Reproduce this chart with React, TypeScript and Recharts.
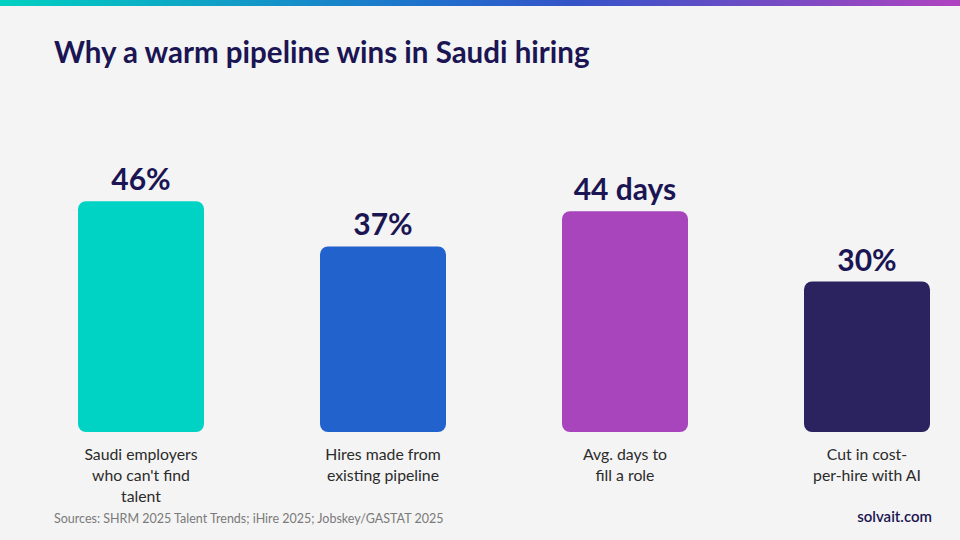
import React from 'react';
import { BarChart, Bar, XAxis, YAxis, Cell, LabelList } from 'recharts';

const categories = [
  "Saudi employers\nwho can't find\ntalent",
  'Hires made from\nexisting pipeline',
  'Avg. days to\nfill a role',
  'Cut in cost-\nper-hire with AI',
];
const values = [46, 37, 44, 30];
const valueLabels = ['46%', '37%', '44 days', '30%'];
const barColors = ['#00d3c3', '#2262cc', '#a845bd', '#2a235f'];

const data = categories.map((name, i) => ({
  name,
  value: values[i],
  display: valueLabels[i],
}));

const FONT = 'Lato, "Open Sans", sans-serif';
const NAVY = '#1b1553';

const CategoryTick = (props: any) => {
  const { x, y, payload } = props;
  const lines = String(payload.value).split('\n');
  return (
    <text x={x} y={y} textAnchor="middle" fontFamily={FONT} fontSize={15.8} fill="#2b2b2b">
      {lines.map((l: string, i: number) => (
        <tspan key={i} x={x} dy={i === 0 ? 20 : 21}>
          {l}
        </tspan>
      ))}
    </text>
  );
};

export default function App() {
  return (
    <div
      style={{
        position: 'absolute',
        left: 0,
        top: 0,
        width: 960,
        height: 540,
        overflow: 'hidden',
        background: '#f4f4f4',
        fontFamily: FONT,
      }}
    >
      <div
        style={{
          position: 'absolute',
          left: 0,
          top: 0,
          width: 960,
          height: 6,
          background: 'linear-gradient(90deg, #00d1c1 0%, #1f6fcc 45%, #3553c8 60%, #b043c0 100%)',
        }}
      />
      <div
        style={{
          position: 'absolute',
          left: 54,
          top: 34,
          fontSize: 29.5,
          fontWeight: 700,
          color: NAVY,
          whiteSpace: 'nowrap',
        }}
      >
        Why a warm pipeline wins in Saudi hiring
      </div>
      <div style={{ position: 'absolute', left: 0, top: 0 }}>
        <BarChart
          width={988}
          height={540}
          data={data}
          margin={{ top: 131, right: 0, left: 20, bottom: 0 }}
          barCategoryGap={58}
        >
          <XAxis
            dataKey="name"
            axisLine={false}
            tickLine={false}
            interval={0}
            tick={<CategoryTick />}
            height={108}
          />
          <YAxis hide domain={[0, 60]} />
          <Bar dataKey="value" radius={[8, 8, 8, 8]} isAnimationActive={false}>
            {data.map((d, i) => (
              <Cell key={d.name} fill={barColors[i]} />
            ))}
            <LabelList
              dataKey="display"
              position="top"
              offset={11}
              fill={NAVY}
              fontFamily={FONT}
              fontSize={30}
              fontWeight={700}
            />
          </Bar>
        </BarChart>
      </div>
      <div
        style={{
          position: 'absolute',
          left: 54,
          top: 511,
          fontSize: 12.5,
          color: '#7a7a7a',
          whiteSpace: 'nowrap',
        }}
      >
        Sources: SHRM 2025 Talent Trends; iHire 2025; Jobskey/GASTAT 2025
      </div>
      <div
        style={{
          position: 'absolute',
          right: 28,
          top: 507,
          fontSize: 15,
          fontWeight: 600,
          color: NAVY,
          whiteSpace: 'nowrap',
        }}
      >
        solvait.com
      </div>
    </div>
  );
}
